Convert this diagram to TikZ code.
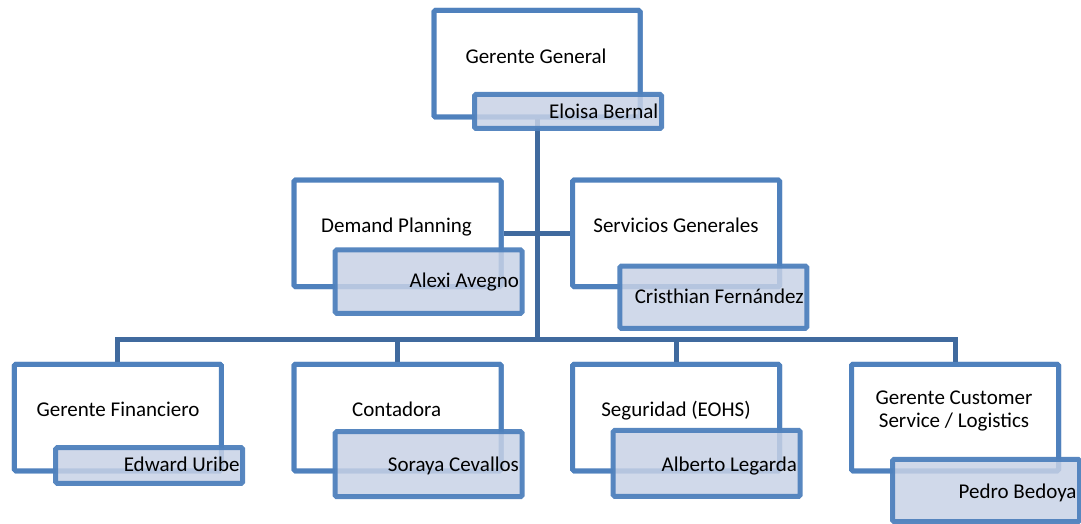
\documentclass[tikz,border=0pt]{standalone}
\usepackage{fontspec}
\setmainfont{Carlito}
\definecolor{boxblue}{RGB}{79,129,189}
\definecolor{linkblue}{RGB}{64,106,158}
\definecolor{namefill}{RGB}{200,210,230}
\begin{document}
\begin{tikzpicture}[x=1pt,y=-1pt,
  unit/.style={draw=boxblue, line width=5pt, fill=white, rounded corners=1.5pt,
    minimum width=207pt, minimum height=106.5pt, inner sep=0pt},
  person/.style={draw=boxblue, line width=5pt, fill=namefill, fill opacity=0.85,
    draw opacity=0.95, rounded corners=1.5pt, minimum width=187pt, inner sep=0pt},
  link/.style={draw=linkblue, line width=5pt},
  unittitle/.style={anchor=base, inner sep=0pt, align=center,
    font=\fontsize{21pt}{22.4pt}\selectfont},
  persontext/.style={anchor=base east, inner sep=0pt,
    font=\fontsize{21pt}{22.4pt}\selectfont}]
\useasboundingbox (0,0) rectangle (1081,524);

% position boxes
\node[unit, minimum width=206pt] (gg) at (537,63.75) {};
\node[unit] (dp) at (397.5,233.3) {};
\node[unit] (sg) at (676.2,233.3) {};
\node[unit] (gf) at (117.9,417.5) {};
\node[unit] (co) at (397.5,417.5) {};
\node[unit] (se) at (676.2,417.5) {};
\node[unit] (cs) at (955,417.5) {};
\coordinate (bus) at (537,339);

% reporting lines
\draw[link] (gg.south) -- (bus);
\draw[link] (dp.east) -- (sg.west);
\draw[link] (gf.north) |- (bus) -| (cs.north);
\draw[link] (co.north) -- (co.north |- bus);
\draw[link] (se.north) -- (se.north |- bus);

% redraw boxes over the lines
\node[unit, minimum width=206pt] at (gg) {};
\node[unit] at (dp) {};
\node[unit] at (sg) {};
\node[unit] at (gf) {};
\node[unit] at (co) {};
\node[unit] at (se) {};
\node[unit] at (cs) {};

% position titles (base = last line)
\node[unittitle] (ggt) at (536,63.5) {Gerente General};
\node[unittitle] (dpt) at (396.5,232) {Demand Planning};
\node[unittitle] (sgt) at (676,232.3) {Servicios Generales};
\node[unittitle] (gft) at (118,416) {Gerente Financiero};
\node[unittitle] (cot) at (396.7,416) {Contadora};
\node[unittitle] (set) at (676,416) {Seguridad (EOHS)};
\node[unittitle] (cst) at (954,427.3) {Gerente Customer\\Service / Logistics};

% name boxes
\node[person, minimum height=34pt] (ggn) at (568,111.5) {};
\node[person, minimum height=63.3pt] (dpn) at (428.6,281.6) {};
\node[person, minimum height=62.3pt] (sgn) at (713.3,297.2) {};
\node[person, minimum height=35.6pt] (gfn) at (149.2,465.5) {};
\node[person, minimum height=65pt] (con) at (428.6,464.2) {};
\node[person, minimum height=66pt] (sen) at (706.7,463.4) {};
\node[person, minimum height=62.4pt] (csn) at (986.2,490.5) {};

% names
\node[persontext] (ggl) at ([xshift=-5.5pt]ggn.east |- 0,118.3) {Eloisa Bernal};
\node[persontext] (dpl) at ([xshift=-5.5pt]dpn.east |- 0,287.3) {Alexi Avegno};
\node[persontext] (sgl) at ([xshift=-5.5pt]sgn.east |- 0,303.3) {Cristhian Fernández};
\node[persontext] (gfl) at ([xshift=-5.5pt]gfn.east |- 0,471) {Edward Uribe};
\node[persontext] (col) at ([xshift=-5.5pt]con.east |- 0,471) {Soraya Cevallos};
\node[persontext] (sel) at ([xshift=-5.5pt]sen.east |- 0,471) {Alberto Legarda};
\node[persontext] (csl) at ([xshift=-5.5pt]csn.east |- 0,498.3) {Pedro Bedoya};
\end{tikzpicture}
\end{document}
